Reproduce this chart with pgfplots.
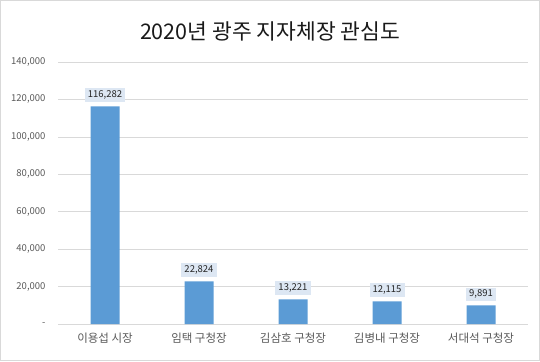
\documentclass[border=0pt]{standalone}
\usepackage{pgfplots}
\pgfplotsset{compat=1.18}
\usepackage{fontspec}
\setmainfont{Noto Sans CJK KR}
\definecolor{barblue}{HTML}{5B9BD5}
\definecolor{lblbg}{HTML}{DDE7F3}
\definecolor{gridc}{HTML}{D9D9D9}
\definecolor{txt}{HTML}{595959}
\begin{document}
\begin{tikzpicture}[x=1pt,y=1pt]
\draw[gridc, line width=0.8pt] (0.4,0.4) rectangle (539.6,360.6);
\begin{axis}[
  at={(58pt,37pt)}, anchor=south west,
  scale only axis, width=470pt, height=262pt,
  xmin=-0.5, xmax=4.5, ymin=0, ymax=140000,
  axis line style={draw=none},
  major tick length=0pt,
  ytick={0,20000,40000,60000,80000,100000,120000,140000},
  yticklabels={{-},{20,000},{40,000},{60,000},{80,000},{100,000},{120,000},{140,000}},
  ymajorgrids, grid style={gridc, line width=0.6pt},
  xtick=data,
  xticklabels={이용섭 시장, 임택 구청장, 김삼호 구청장, 김병내 구청장, 서대석 구청장},
  xticklabel style={font=\fontsize{11.5}{13}\selectfont, text=txt, yshift=-5pt},
  yticklabel style={font=\fontsize{9.5}{11}\selectfont, text=txt, xshift=-9pt},
  scaled y ticks=false,
  /pgf/number format/assume math mode=true,
  ybar, bar width=29pt,
  nodes near coords={\pgfmathprintnumber[fixed, 1000 sep={,}]{\pgfplotspointmeta}},
  every node near coord/.style={fill=lblbg, text=black!85, inner xsep=3pt, inner ysep=2.5pt, font=\fontsize{9.5}{11}\selectfont, yshift=4pt},
  clip=false,
]
\addplot[fill=barblue, draw=none] coordinates {(0,116282) (1,22824) (2,13221) (3,12115) (4,9891)};
\end{axis}
\node[font=\fontsize{21.5}{25}\selectfont, text=black!90] at (270pt,330pt) {2020년 광주 지자체장 관심도};
\end{tikzpicture}
\end{document}
